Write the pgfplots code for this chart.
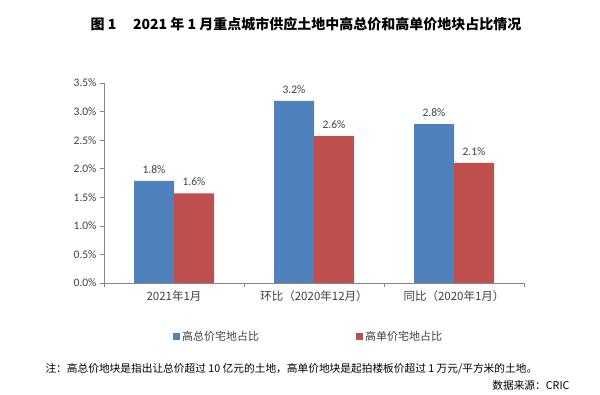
\documentclass[border=0pt]{standalone}
\usepackage{pgfplots}
\pgfplotsset{compat=1.18}
\usepackage{fontspec}
\setmainfont{Carlito}
\newfontfamily\cjk{Noto Sans CJK SC}
\definecolor{cblue}{HTML}{4F81BD}
\definecolor{cred}{HTML}{C0504D}
\definecolor{axgray}{HTML}{868686}
\definecolor{txt}{HTML}{404040}
\begin{document}
\begin{tikzpicture}[x=1pt,y=1pt]
\useasboundingbox (0,0) rectangle (600,395);
\begin{axis}[
  at={(104pt,112pt)}, anchor=south west,
  scale only axis, width=420pt, height=200pt,
  ybar, bar width=40pt,
  xmin=-0.5, xmax=2.5, ymin=0, ymax=3.5,
  axis x line*=bottom, axis y line*=left,
  axis line style={draw=axgray, line width=0.6pt, -},
  every tick/.style={draw=axgray, line width=0.6pt},
  tick align=outside,
  major tick length=4pt,
  ytick={0,0.5,1,1.5,2,2.5,3,3.5},
  /pgf/number format/assume math mode=true,
  yticklabel={\pgfmathprintnumber[fixed,fixed zerofill,precision=1]{\tick}\%},
  yticklabel style={font=\fontsize{11.5}{13}\selectfont, text=txt},
  xtick={-0.5,0.5,1.5,2.5},
  x tick label as interval,
  xticklabels={{2021年1月},{环比（2020年12月）},{同比（2020年1月）},{}},
  xticklabel style={font=\cjk\fontsize{11.5}{13}\selectfont, text=txt},
  legend columns=2,
  legend style={draw=none, fill=none, at={(0.487,-0.27)}, anchor=center,
    font=\cjk\fontsize{11}{13}\selectfont, text=txt,
    /tikz/every even column/.append style={column sep=95pt}},
  nodes near coords={\pgfmathprintnumber[fixed,fixed zerofill,precision=1]{\pgfplotspointmeta}\%},
  nodes near coords style={font=\fontsize{11.5}{13}\selectfont, text=txt, yshift=4pt},
]
\addplot[bar shift=-20pt, fill=cblue, draw=none,
  legend image code/.code={\fill[cblue] (0pt,-3.5pt) rectangle (7pt,3.5pt);}]
  coordinates {(0,1.785) (1,3.185) (2,2.78)};
\addlegendentry{高总价宅地占比}
\addplot[bar shift=20pt, fill=cred, draw=none,
  legend image code/.code={\fill[cred] (0pt,-3.5pt) rectangle (7pt,3.5pt);}]
  coordinates {(0,1.57) (1,2.57) (2,2.10)};
\addlegendentry{高单价宅地占比}
\end{axis}
\node[font=\cjk\bfseries\fontsize{14}{17}\selectfont] at (306,371)
  {图 1\hspace{1.2em}2021 年 1 月重点城市供应土地中高总价和高单价地块占比情况};
\node[anchor=west, font=\cjk\fontsize{10.7}{12}\selectfont] at (42,26)
  {注：高总价地块是指出让总价超过 10 亿元的土地，高单价地块是起拍楼板价超过 1 万元/平方米的土地。};
\node[anchor=east, font=\cjk\fontsize{10.7}{12}\selectfont] at (573,10)
  {数据来源：CRIC};
\end{tikzpicture}
\end{document}
